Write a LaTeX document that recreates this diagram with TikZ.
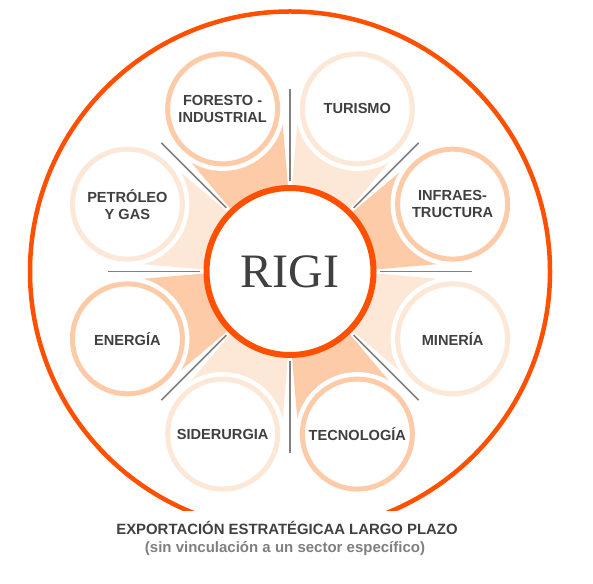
\documentclass[tikz,border=0pt]{standalone}
\usepackage{fontspec}
\setmainfont{Liberation Sans}
\newfontfamily\rigifont{Liberation Serif}
\usetikzlibrary{calc}
\definecolor{orng}{HTML}{FF5000}
\definecolor{pdark}{HTML}{FDCBA7}
\definecolor{plight}{HTML}{FDE7D7}
\definecolor{txt}{HTML}{404040}
\definecolor{gline}{HTML}{808080}
\definecolor{subtxt}{HTML}{7F7F7F}
\begin{document}
\begin{tikzpicture}[x=1pt,y=1pt,
  sector/.style={circle, draw=#1, line width=5pt, fill=white, minimum size=110pt,
    inner sep=0pt, text=txt, align=center,
    font=\fontsize{14.6}{17}\selectfont\bfseries},
  halo/.style={fill=white},
  spoke/.style={draw=gline, line width=1.5pt},
  hub/.style={circle, draw=orng, line width=6pt, fill=white, minimum size=167pt,
    inner sep=0pt, text=txt, font=\rigifont\fontsize{48}{50}\selectfont},
  caption/.style={anchor=base, text=txt, font=\fontsize{14.9}{17}\selectfont\bfseries},
  subcaption/.style={anchor=base, text=subtxt, font=\fontsize{15}{17}\selectfont\bfseries}]
\useasboundingbox (0,0) rectangle (593,583);
\coordinate (C) at (290,311.5);
% outer ring, cut at the bottom
\begin{scope}
  \clip (0,73) rectangle (593,583);
  \draw[orng, line width=4.5pt] (C) circle (260);
\end{scope}
% wedges
\foreach \m/\col in {22.5/pdark, 67.5/plight, 112.5/pdark, 157.5/plight,
                     202.5/pdark, 247.5/plight, 292.5/pdark, 337.5/plight}{
  \coordinate (a) at ($(C)+(\m+180:17.6)$);
  \fill[\col] (a) -- ($(a)+(\m-17.6:203)$) -- ($(a)+(\m+17.6:203)$) -- cycle;
}
% white halos
\foreach \m in {22.5,67.5,...,337.5}{
  \fill[halo] ($(C)+(\m:176)$) circle (62);
}
% sector circles
\node[sector=pdark]  (infra) at ($(C)+(22.5:176)$)  {INFRAES-\\TRUCTURA};
\node[sector=plight] (turis) at ($(C)+(67.5:176)$)  {TURISMO};
\node[sector=pdark]  (fores) at ($(C)+(112.5:176)$) {FORESTO -\\INDUSTRIAL};
\node[sector=plight] (petro) at ($(C)+(157.5:176)$) {PETRÓLEO\\Y GAS};
\node[sector=pdark]  (energ) at ($(C)+(202.5:176)$) {ENERGÍA};
\node[sector=plight] (sider) at ($(C)+(247.5:176)$) {SIDERURGIA};
\node[sector=pdark]  (tecno) at ($(C)+(292.5:176)$) {TECNOLOGÍA};
\node[sector=plight] (miner) at ($(C)+(337.5:176)$) {MINERÍA};
% hub
\node[hub] (rigi) at (C) {RIGI};
% spokes
\foreach \a in {0,45,...,315}{
  \coordinate (o\a) at ($(C)+(\a:182)$);
  \draw[spoke, shorten <=3.5pt] (rigi.\a) -- (o\a);
}
% captions
\node[caption] (cap1) at (287,49) {EXPORTACIÓN ESTRATÉGICAA LARGO PLAZO};
\node[subcaption] (cap2) at (285,31) {(sin vinculación a un sector específico)};
\end{tikzpicture}
\end{document}
